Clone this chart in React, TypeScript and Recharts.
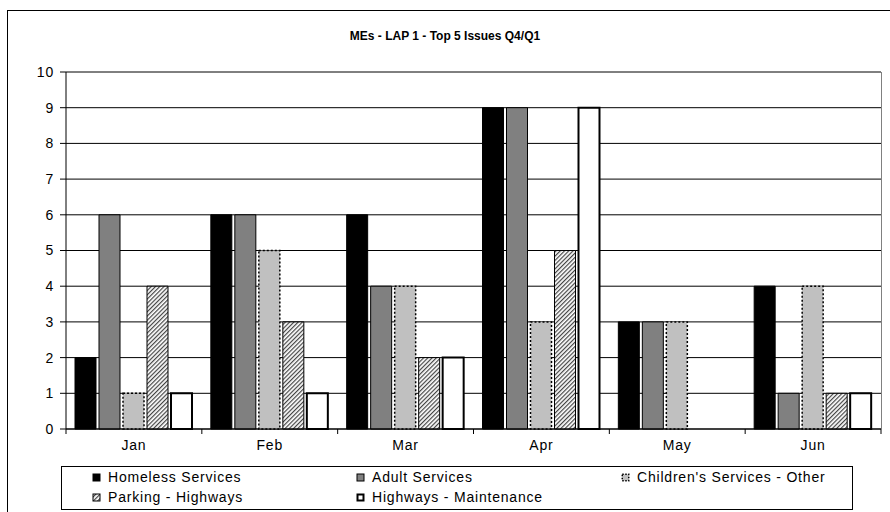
import React from "react";
import { BarChart, Bar, XAxis, YAxis, CartesianGrid } from "recharts";

const months = ["Jan", "Feb", "Mar", "Apr", "May", "Jun"];
const homeless = [2, 6, 6, 9, 3, 4];
const adult = [6, 6, 4, 9, 3, 1];
const childrens = [1, 5, 4, 3, 3, 4];
const parking = [4, 3, 2, 5, 0, 1];
const highways = [1, 1, 2, 9, 0, 1];
const yTicks = [0, 1, 2, 3, 4, 5, 6, 7, 8, 9, 10];

const data = months.map((m, i) => ({
  month: m,
  homeless: homeless[i],
  adult: adult[i],
  childrens: childrens[i],
  parking: parking[i],
  highways: highways[i],
}));

const W = 890;
const H = 512;
const M = { top: 72, right: 9, left: 26, bottom: 53 };
const Y_AXIS_W = 40;
const BAND = (W - M.left - M.right - Y_AXIS_W) / months.length;
const FONT = "Arial, 'Liberation Sans', sans-serif";
const SPACING = 0.8;

// label centred under the category, tick mark on the category boundary
function MonthTick(props: any) {
  const { x, y, payload, index } = props;
  return (
    <g>
      {index === 0 && <line x1={x - BAND / 2} y1={y} x2={x - BAND / 2} y2={y + 5} stroke="#000" />}
      <line x1={x + BAND / 2} y1={y} x2={x + BAND / 2} y2={y + 5} stroke="#000" />
      <text x={x} y={y + 21} textAnchor="middle" fontSize={14} letterSpacing={SPACING} fontFamily={FONT} fill="#000">
        {payload.value}
      </text>
    </g>
  );
}

const series = [
  { key: "homeless", name: "Homeless Services", fill: "#000", stroke: "#000", sw: 1, dash: undefined },
  { key: "adult", name: "Adult Services", fill: "#808080", stroke: "#000", sw: 1, dash: undefined },
  { key: "childrens", name: "Children's Services - Other", fill: "#c0c0c0", stroke: "#000", sw: 1.5, dash: "2 2" },
  { key: "parking", name: "Parking - Highways", fill: "url(#hatch)", stroke: "#000", sw: 1, dash: undefined },
  { key: "highways", name: "Highways - Maintenance", fill: "#fff", stroke: "#000", sw: 2, dash: undefined },
];

function Swatch({ s }: { s: (typeof series)[number] }) {
  return (
    <svg width={9} height={9} style={{ display: "block" }}>
      <rect
        x={s.sw / 2 + 0.5}
        y={s.sw / 2 + 0.5}
        width={8 - s.sw}
        height={8 - s.sw}
        fill={s.fill}
        stroke={s.stroke}
        strokeWidth={s.sw}
        strokeDasharray={s.dash ? "1.5 1.5" : undefined}
      />
    </svg>
  );
}

const legendCols = [30, 294, 559];

export default function App() {
  return (
    <div style={{ position: "absolute", left: 0, top: 0, width: W, height: H, background: "#fff", overflow: "hidden", fontFamily: FONT }}>
      <div style={{ position: "absolute", left: 7, top: 10, width: W, height: H, border: "1px solid #000" }} />
      <div style={{ position: "absolute", left: 0, top: 29, width: W, textAlign: "center", fontSize: 12, fontWeight: "bold" }}>
        MEs - LAP 1 - Top 5 Issues Q4/Q1
      </div>
      <div style={{ position: "absolute", left: 0, top: 0 }}>
        <BarChart width={W} height={H} data={data} margin={M} barCategoryGap={9} barGap={3}>
          <defs>
            <pattern id="hatch" width={3} height={3} patternUnits="userSpaceOnUse" patternTransform="rotate(45)">
              <rect width={3} height={3} fill="#fff" />
              <line x1={0.6} y1={0} x2={0.6} y2={3} stroke="#444" strokeWidth={1.2} />
            </pattern>
          </defs>
          <CartesianGrid vertical={false} stroke="#000" />
          <XAxis
            dataKey="month"
            tick={<MonthTick />}
            tickLine={false}
            tickSize={0}
            tickMargin={0}
            height={30}
            axisLine={{ stroke: "#000" }}
            interval={0}
          />
          <YAxis
            width={Y_AXIS_W}
            domain={[0, 10]}
            ticks={yTicks}
            interval={0}
            tickSize={6}
            tickMargin={6}
            tick={{ fontSize: 14, fill: "#000", fontFamily: FONT, letterSpacing: SPACING }}
            axisLine={{ stroke: "#000" }}
            tickLine={{ stroke: "#000" }}
          />
          {series.map((s) => (
            <Bar
              key={s.key}
              dataKey={s.key}
              name={s.name}
              fill={s.fill}
              stroke={s.stroke}
              strokeWidth={s.sw}
              strokeDasharray={s.dash}
              isAnimationActive={false}
            />
          ))}
        </BarChart>
      </div>
      {/* plot area right edge */}
      <div style={{ position: "absolute", left: W - M.right, top: M.top, width: 1, height: H - M.top - M.bottom - 30 + 5, background: "#808080" }} />
      <div style={{ position: "absolute", left: 61, top: 466, width: 792, height: 44, border: "1px solid #000", fontSize: 14, letterSpacing: SPACING, boxSizing: "border-box" }}>
        {series.map((s, i) => (
          <div
            key={s.key}
            style={{
              position: "absolute",
              left: legendCols[i % 3],
              top: i < 3 ? 1 : 21,
              display: "flex",
              alignItems: "center",
              gap: 7,
              whiteSpace: "nowrap",
              lineHeight: "18px",
            }}
          >
            <Swatch s={s} />
            <span>{s.name}</span>
          </div>
        ))}
      </div>
    </div>
  );
}
